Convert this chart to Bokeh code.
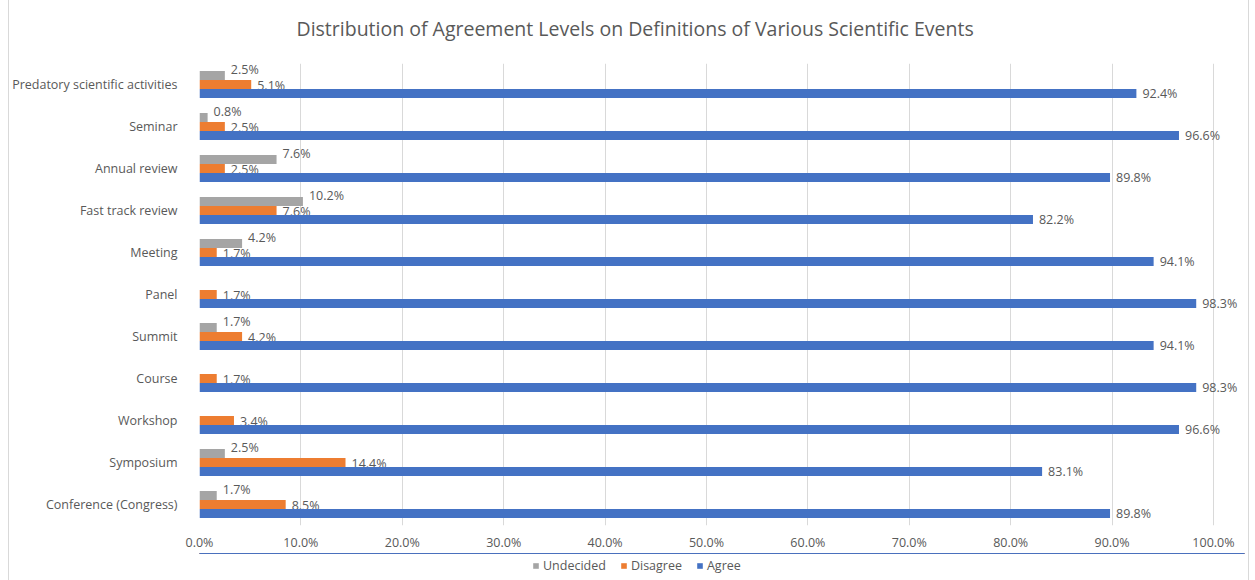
from bokeh.plotting import figure
from bokeh.layouts import column
from bokeh.models import ColumnDataSource, FactorRange, Range1d, PrintfTickFormatter, Legend, LegendItem, FixedTicker
from bokeh.transform import dodge
from bokeh.core.properties import value
from bokeh.embed import file_html
from bokeh.resources import INLINE

categories = ["Predatory scientific activities", "Seminar", "Annual review", "Fast track review",
              "Meeting", "Panel", "Summit", "Course", "Workshop", "Symposium", "Conference (Congress)"]
series_names = ["Undecided", "Disagree", "Agree"]
undecided = [2.5, 0.8, 7.6, 10.2, 4.2, 0.0, 1.7, 0.0, 0.0, 2.5, 1.7]
disagree = [5.1, 2.5, 2.5, 7.6, 1.7, 1.7, 4.2, 1.7, 3.4, 14.4, 8.5]
agree = [92.4, 96.6, 89.8, 82.2, 94.1, 98.3, 94.1, 98.3, 96.6, 83.1, 89.8]
x_ticks = [0, 10, 20, 30, 40, 50, 60, 70, 80, 90, 100]

FONT = "Open Sans"
TXT = "#595959"
GREY, ORANGE, BLUE = "#A5A5A5", "#ED7D31", "#4472C4"

p = figure(frame_width=1046, frame_height=462, output_backend="svg", toolbar_location=None,
           y_range=FactorRange(factors=list(reversed(categories)), range_padding=0),
           x_range=Range1d(0, 103.16),
           min_border_left=187, min_border_right=3, min_border_top=57, min_border_bottom=25)

p.title.text = "Distribution of Agreement Levels on Definitions of Various Scientific Events"
p.title.align = "left"
p.title.text_font = FONT
p.title.text_font_size = "19.5px"
p.title.text_font_style = "normal"
p.title.text_color = TXT
p.title.offset = 97
p.title.standoff = 44

h = 0.214
colors = [GREY, ORANGE, BLUE]
offsets = [h, 0.0, -h]
text_offsets = [-6, 1, 0]
all_vals = [undecided, disagree, agree]

p2 = figure(width=1238, height=28, output_backend="svg", toolbar_location=None,
            min_border_left=0, min_border_right=0, min_border_top=0, min_border_bottom=0,
            x_range=Range1d(0, 1), y_range=Range1d(-3, -2))
p2.axis.visible = False
p2.grid.grid_line_color = None
p2.outline_line_color = None

items = []
for name, vals, col, off, toff in zip(series_names, all_vals, colors, offsets, text_offsets):
    src = ColumnDataSource(dict(cat=categories, v=vals))
    p.hbar(y=dodge("cat", off, range=p.y_range), right="v", left=0, height=h,
           source=src, fill_color=col, line_color=None)
    nz = [i for i, x in enumerate(vals) if x > 0]
    lsrc = ColumnDataSource(dict(cat=[categories[i] for i in nz], v=[vals[i] for i in nz],
                                 t=["%.1f%%" % vals[i] for i in nz]))
    p.text(x="v", y=dodge("cat", off, range=p.y_range), text="t", source=lsrc,
           x_offset=6, y_offset=toff, text_baseline="middle", text_align="left",
           text_font=value(FONT), text_font_size="12.5px", text_color=TXT)
    # legend proxy in the legend strip (drawn outside its visible range)
    lr = p2.hbar(y="v", right="v", left=0, height=0.5, source=src, fill_color=col, line_color=None)
    items.append(LegendItem(label=name, renderers=[lr], index=0))

p.xaxis.ticker = FixedTicker(ticks=x_ticks)
p.xaxis.formatter = PrintfTickFormatter(format="%.1f%%")
for ax in (p.xaxis[0], p.yaxis[0]):
    ax.axis_line_color = None
    ax.major_tick_line_color = None
    ax.minor_tick_line_color = None
    ax.major_label_text_font = FONT
    ax.major_label_text_font_size = "12.5px"
    ax.major_label_text_color = TXT
p.xaxis.major_label_standoff = 2
p.yaxis.major_label_standoff = 16
p.xgrid.grid_line_color = "#D9D9D9"
p.xgrid.ticker = FixedTicker(ticks=x_ticks)
p.ygrid.grid_line_color = None
p.outline_line_color = None

legend = Legend(items=items, orientation="horizontal", location=(333, 7),
                glyph_width=7, glyph_height=7, label_text_font=FONT, label_text_font_size="12.5px",
                label_text_color=TXT, spacing=14, label_standoff=4, padding=0, margin=0,
                border_line_color=None, background_fill_alpha=0)
p2.add_layout(legend, "center")

layout = column(p, p2, spacing=0)
layout.styles = {"border": "1px solid #d9d9d9", "margin-left": "8px", "margin-top": "-11px"}

open("out.html", "w").write(file_html(layout, INLINE))
